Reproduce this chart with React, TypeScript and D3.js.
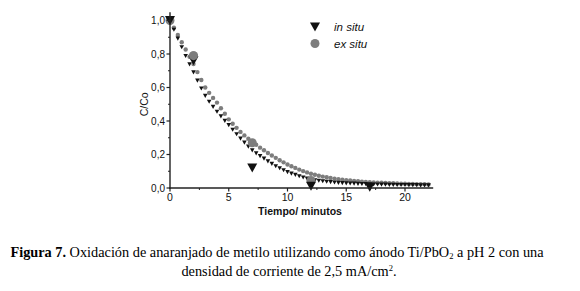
import React from "react";
import * as d3 from "d3";

// Measured points
const inSituT = [0, 2, 7, 12, 17];
const inSituC = [1.0, 0.76, 0.12, 0.01, 0.005];
const exSituT = [0, 2, 7, 12];
const exSituC = [1.0, 0.79, 0.27, 0.045];

// Fitted curves, sampled every 1/3 minute from 0 to 22
const FIT_STEP = 1 / 3;
const inSituFit = [
  1.0, 0.945, 0.892, 0.84, 0.788, 0.738, 0.69, 0.641, 0.594, 0.55, 0.515, 0.484,
  0.455, 0.428, 0.401, 0.375, 0.348, 0.321, 0.295, 0.271, 0.247, 0.225, 0.207,
  0.19, 0.175, 0.159, 0.144, 0.13, 0.118, 0.106, 0.095, 0.086, 0.078, 0.07, 0.063,
  0.056, 0.05, 0.046, 0.043, 0.04, 0.037, 0.035, 0.033, 0.031, 0.029, 0.028, 0.027,
  0.026, 0.025, 0.024, 0.023, 0.022, 0.021, 0.021, 0.02, 0.02, 0.019, 0.019, 0.018,
  0.018, 0.018, 0.017, 0.017, 0.017, 0.016, 0.016, 0.016,
];
const exSituFit = [
  1.0, 0.957, 0.913, 0.87, 0.827, 0.784, 0.74, 0.692, 0.645, 0.6, 0.568, 0.538,
  0.51, 0.476, 0.443, 0.41, 0.384, 0.359, 0.335, 0.314, 0.294, 0.275, 0.258, 0.241,
  0.225, 0.209, 0.194, 0.18, 0.166, 0.153, 0.14, 0.13, 0.12, 0.11, 0.101, 0.093,
  0.085, 0.079, 0.073, 0.068, 0.064, 0.06, 0.056, 0.053, 0.05, 0.047, 0.045, 0.042,
  0.04, 0.038, 0.036, 0.035, 0.033, 0.032, 0.031, 0.03, 0.029, 0.028, 0.027, 0.026,
  0.025, 0.024, 0.024, 0.023, 0.022, 0.022, 0.021,
];

const xTicks = [0, 5, 10, 15, 20];
const xMinor = [2.5, 7.5, 12.5, 17.5];
const yTicks = [0, 0.2, 0.4, 0.6, 0.8, 1.0];
const yMinor = [0.1, 0.3, 0.5, 0.7, 0.9];

const legendLabels = ["in situ", "ex situ"];
const captionBold = "Figura 7.";
const captionLine1 = " Oxidación de anaranjado de metilo utilizando como ánodo Ti/PbO";
const captionLine1b = " a pH 2 con una";
const captionLine2 = "densidad de corriente de 2,5 mA/cm";

const BLACK = "#111";
const GRAY = "#7d7d7d";

function tri(cx: number, cy: number, s: number) {
  const h = s * 0.9;
  return `M${cx - s / 2},${cy - h / 2}L${cx + s / 2},${cy - h / 2}L${cx},${cy + h / 2}Z`;
}

export default function App() {
  const x = d3.scaleLinear().domain([0, 20]).range([170, 405]);
  const y = d3.scaleLinear().domain([0, 1]).range([188, 20.5]);
  const fmt = (v: number) => d3.format(".1f")(v).replace(".", ",");
  const axisFont = "'Liberation Sans', Arial, sans-serif";
  const serif = "'Liberation Serif', 'Times New Roman', serif";

  return (
    <svg width={580} height={291} style={{ position: "absolute", left: 0, top: 0, background: "#fff" }}>
      <rect width={580} height={291} fill="#fff" />
      {/* fit curves */}
      {exSituFit.map((v, i) => (
        <circle key={"ef" + i} cx={x(i * FIT_STEP)} cy={y(v)} r={2.2} fill={GRAY} />
      ))}
      {inSituFit.map((v, i) => (
        <path key={"if" + i} d={tri(x(i * FIT_STEP), y(v), 4.6)} fill={BLACK} />
      ))}
      {/* measured */}
      {exSituT.map((t, i) => (
        <circle key={"es" + i} cx={x(t)} cy={y(exSituC[i])} r={4.5} fill={GRAY} />
      ))}
      {inSituT.map((t, i) =>
        t === 2 ? null : <path key={"is" + i} d={tri(x(t), y(inSituC[i]), 10)} fill={BLACK} />
      )}
      {inSituT.map((t, i) =>
        t === 2 ? <path key={"is2" + i} d={tri(x(t), y(inSituC[i]), 10)} fill={BLACK} /> : null
      )}
      {exSituT.map((t, i) =>
        t === 2 ? <circle key={"es2" + i} cx={x(t)} cy={y(exSituC[i])} r={4.5} fill={GRAY} /> : null
      )}
      {/* axes */}
      <line x1={x(0)} x2={x(0)} y1={y(1.05)} y2={y(0) + 0.7} stroke="#222" strokeWidth={1.4} />
      <line x1={x(0) - 0.7} x2={x(22.4)} y1={y(0)} y2={y(0)} stroke="#222" strokeWidth={1.4} />
      {xTicks.map((t) => (
        <g key={"xt" + t}>
          <line x1={x(t)} x2={x(t)} y1={y(0)} y2={y(0) + 3.5} stroke="#222" strokeWidth={1.2} />
          <text x={x(t)} y={y(0) + 13} textAnchor="middle" fontFamily={axisFont} fontSize={10.5} fill="#111">
            {t}
          </text>
        </g>
      ))}
      {xMinor.map((t) => (
        <line key={"xm" + t} x1={x(t)} x2={x(t)} y1={y(0)} y2={y(0) + 2} stroke="#222" strokeWidth={1} />
      ))}
      {yTicks.map((t) => (
        <g key={"yt" + t}>
          <line x1={x(0) - 3.5} x2={x(0)} y1={y(t)} y2={y(t)} stroke="#222" strokeWidth={1.2} />
          <text x={x(0) - 5} y={y(t) + 3.6} textAnchor="end" fontFamily={axisFont} fontSize={10} fill="#111">
            {fmt(t)}
          </text>
        </g>
      ))}
      {yMinor.map((t) => (
        <line key={"ym" + t} x1={x(0) - 2} x2={x(0)} y1={y(t)} y2={y(t)} stroke="#222" strokeWidth={1} />
      ))}
      <text
        transform={`translate(${x(0) - 22},${y(0.5)}) rotate(-90)`}
        textAnchor="middle"
        fontFamily={axisFont}
        fontSize={10.5}
        fill="#111"
      >
        C/Co
      </text>
      <text x={300} y={215} textAnchor="middle" fontFamily={axisFont} fontSize={10.5} fontWeight="bold" fill="#111">
        Tiempo/ minutos
      </text>
      {/* legend */}
      <path d={tri(315, 27, 10)} fill={BLACK} />
      <circle cx={315} cy={43.5} r={4.5} fill={GRAY} />
      <text x={334} y={31} fontFamily={axisFont} fontSize={11.5} fontStyle="italic" fill="#111">
        {legendLabels[0]}
      </text>
      <text x={334} y={48} fontFamily={axisFont} fontSize={11.5} fontStyle="italic" fill="#111">
        {legendLabels[1]}
      </text>
      {/* caption */}
      <text x={277} y={257} textAnchor="middle" fontFamily={serif} fontSize={14.3} fill="#000">
        <tspan fontWeight="bold">{captionBold}</tspan>
        <tspan>{captionLine1}</tspan>
        <tspan fontSize={8.5} dy={2}>2</tspan>
        <tspan dy={-2}>{captionLine1b}</tspan>
      </text>
      <text x={289} y={276} textAnchor="middle" fontFamily={serif} fontSize={14.3} fill="#000">
        <tspan>{captionLine2}</tspan>
        <tspan fontSize={8.5} dy={-5}>2</tspan>
        <tspan dy={5}>.</tspan>
      </text>
    </svg>
  );
}
